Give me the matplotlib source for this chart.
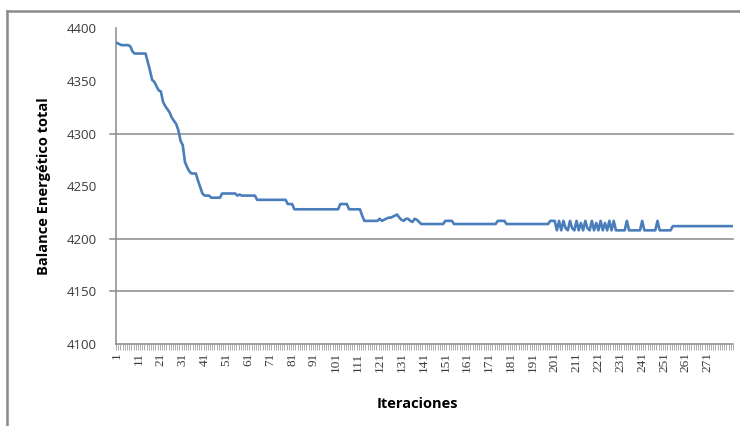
## Balance energetico vs iteraciones (Excel-style line chart)

import matplotlib
matplotlib.use("Agg")
import matplotlib.pyplot as plt
from matplotlib.lines import Line2D
import numpy as np

# values, one per iteration (1..282)
balance = [
    4386, 4385, 4384, 4384, 4384, 4384, 4383, 4378, 4376, 4376,   # 1-10
    4376, 4376, 4376, 4376, 4368, 4360, 4351, 4349, 4345, 4341,   # 11-20
    4340, 4330, 4326, 4323, 4320, 4315, 4312, 4309, 4303, 4293,   # 21-30
    4289, 4273, 4268, 4264, 4262, 4262, 4262, 4255, 4249, 4243,   # 31-40
    4241, 4241, 4241, 4239, 4239, 4239, 4239, 4239, 4243, 4243,   # 41-50
    4243, 4243, 4243, 4243, 4243, 4241, 4242, 4241, 4241, 4241,   # 51-60
    4241, 4241, 4241, 4241, 4237, 4237, 4237, 4237, 4237, 4237,   # 61-70
    4237, 4237, 4237, 4237, 4237, 4237, 4237, 4237, 4233, 4233,   # 71-80
    4233, 4228, 4228, 4228, 4228, 4228, 4228, 4228, 4228, 4228,   # 81-90
    4228, 4228, 4228, 4228, 4228, 4228, 4228, 4228, 4228, 4228,   # 91-100
    4228, 4228, 4233, 4233, 4233, 4233, 4228, 4228, 4228, 4228,   # 101-110
    4228, 4228, 4222, 4217, 4217, 4217, 4217, 4217, 4217, 4217,   # 111-120
    4219, 4217, 4218, 4219, 4220, 4220, 4221, 4222, 4223, 4220,   # 121-130
    4218, 4217, 4219, 4219, 4217, 4216, 4219, 4218, 4216, 4214,   # 131-140
    4214, 4214, 4214, 4214, 4214, 4214, 4214, 4214, 4214, 4214,   # 141-150
    4217, 4217, 4217, 4217, 4214, 4214, 4214, 4214, 4214, 4214,   # 151-160
    4214, 4214, 4214, 4214, 4214, 4214, 4214, 4214, 4214, 4214,   # 161-170
    4214, 4214, 4214, 4214, 4217, 4217, 4217, 4217, 4214, 4214,   # 171-180
    4214, 4214, 4214, 4214, 4214, 4214, 4214, 4214, 4214, 4214,   # 181-190
    4214, 4214, 4214, 4214, 4214, 4214, 4214, 4214, 4217, 4217,   # 191-200
    4217, 4208, 4217, 4208, 4217, 4210, 4208, 4217, 4210, 4208,   # 201-210
    4217, 4208, 4215, 4208, 4217, 4210, 4208, 4217, 4208, 4215,   # 211-220
    4208, 4217, 4208, 4215, 4208, 4217, 4208, 4217, 4208, 4208,   # 221-230
    4208, 4208, 4208, 4217, 4208, 4208, 4208, 4208, 4208, 4208,   # 231-240
    4217, 4208, 4208, 4208, 4208, 4208, 4208, 4217, 4208, 4208,   # 241-250
    4208, 4208, 4208, 4208, 4212, 4212, 4212, 4212, 4212, 4212,   # 251-260
    4212, 4212, 4212, 4212, 4212, 4212, 4212, 4212, 4212, 4212,   # 261-270
    4212, 4212, 4212, 4212, 4212, 4212, 4212, 4212, 4212, 4212,   # 271-280
    4212, 4212,                                                   # 281-282
]
iteraciones = list(range(1, len(balance) + 1))
x_labels = [str(i) for i in range(1, 272, 10)]
y_ticks = [4100, 4150, 4200, 4250, 4300, 4350, 4400]
y_grid = [4150, 4200, 4300]   # only these lines survive in the picture

plt.rcParams['font.family'] = ['Open Sans', 'DejaVu Sans']

fig = plt.figure(figsize=(7.4, 4.26), dpi=100)
ax = fig.add_axes([0.1568, 0.1925, 0.8337, 0.7411])

# gridlines (with the little outward tick) drawn first, under the series
for g in y_grid:
    ax.axhline(g, xmin=-6 / 617, xmax=1, color='#8a8a8a', lw=1.1, clip_on=False, zorder=1)

ax.plot(iteraciones, balance, color='#4a7ebb', lw=1.9, solid_joinstyle='round', zorder=3)

ax.set_xlim(0.5, len(balance) + 0.5)
ax.set_ylim(4100, 4400)

ax.set_yticks(y_ticks)
ax.set_yticklabels([str(v) for v in y_ticks], fontsize=9.5, color='#3a3a3a')
ax.tick_params(axis='y', which='major', length=0, pad=14)

# x axis: label every 10th iteration, small tick between every category
ax.set_xticks(list(range(1, 272, 10)))
ax.set_xticklabels(x_labels, rotation=90, fontsize=9.5, color='#3a3a3a',
                   family=['Liberation Serif', 'DejaVu Serif'])
ax.tick_params(axis='x', which='major', length=0, pad=6)
ax.set_xticks(np.arange(0.5, len(balance) + 1, 1), minor=True)
ax.tick_params(axis='x', which='minor', length=4, color='#a0a0a0', width=0.6)

for s in ['top', 'right']:
    ax.spines[s].set_visible(False)
for s in ['left', 'bottom']:
    ax.spines[s].set_color('#8a8a8a')
    ax.spines[s].set_linewidth(1.1)

ax.set_ylabel('Balance Energético total', fontsize=10.5, fontweight='bold')
ax.yaxis.set_label_coords(-65 / 617, 0.5)
ax.set_xlabel('Iteraciones', fontsize=10.5, fontweight='bold')
ax.xaxis.set_label_coords(0.489, -53 / 318)

# outer chart-area border (left and top edges only visible)
fig.add_artist(Line2D([7 / 740, 7 / 740], [0, 1 - 11 / 426], color='#8a8a8a', lw=1.8,
                      transform=fig.transFigure))
fig.add_artist(Line2D([7 / 740, 1], [1 - 11 / 426, 1 - 11 / 426], color='#8a8a8a', lw=1.8,
                      transform=fig.transFigure))

fig.savefig('out.png', dpi=100)
